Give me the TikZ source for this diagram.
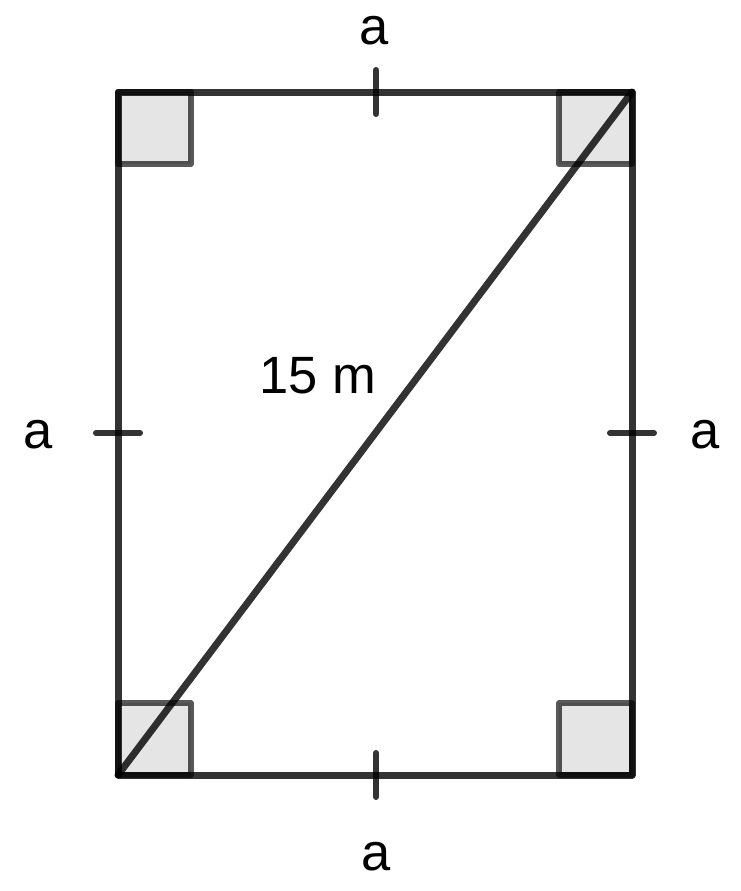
\documentclass[tikz,border=0pt]{standalone}
\usepackage{fontspec}
\setmainfont{Liberation Sans}
\begin{document}
\begin{tikzpicture}[x=1pt,y=-1pt,
  edge/.style={draw=black,draw opacity=0.8,line width=7pt,line cap=round,line join=round},
  rightangle/.style={draw=black,draw opacity=0.65,fill=black!10,line width=5.5pt,line join=round},
  tick/.style={draw=black,draw opacity=0.8,line width=6pt,line cap=round},
  lab/.style={font=\fontsize{52.5}{58}\selectfont,inner sep=0pt}]
\useasboundingbox (0,0) rectangle (740,891);
\coordinate (A) at (118,775);
\coordinate (B) at (632,775);
\coordinate (C) at (632,92);
\coordinate (D) at (118,92);
% right-angle marks
\draw[rightangle] (D) rectangle ++(73,72);
\draw[rightangle] (C) rectangle ++(-73,72);
\draw[rightangle] (A) rectangle ++(73,-72);
\draw[rightangle] (B) rectangle ++(-73,-72);
% rectangle and diagonal
\draw[edge] (A) -- (B) -- (C) -- (D) -- cycle;
\draw[edge] (A) -- (C);
% ticks
\coordinate (tT) at (376,92);
\coordinate (tB) at (376,775);
\coordinate (tL) at (118,433);
\coordinate (tR) at (632,433);
\draw[tick] ([yshift=-22pt]tT) -- ([yshift=22pt]tT);
\draw[tick] ([yshift=-22pt]tB) -- ([yshift=22pt]tB);
\draw[tick] ([xshift=-22pt]tL) -- ([xshift=22pt]tL);
\draw[tick] ([xshift=-22pt]tR) -- ([xshift=22pt]tR);
% labels
\node[lab] (lt) at (374,31) {a};
\node[lab] (lb) at (376,857) {a};
\node[lab] (ll) at (38,435) {a};
\node[lab] (lr) at (705,435) {a};
\node[lab] (ld) at (318,376) {15 m};
\end{tikzpicture}
\end{document}
